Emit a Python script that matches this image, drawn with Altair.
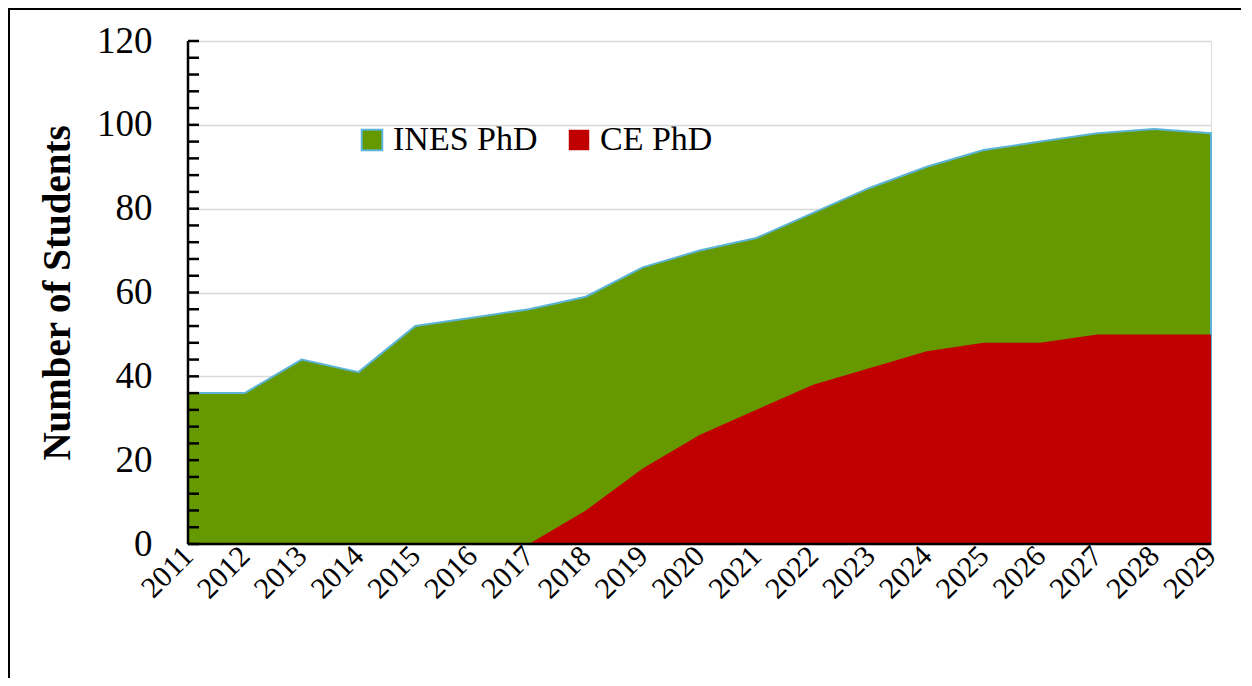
import altair as alt
import pandas as pd

years = [str(y) for y in range(2011, 2030)]
ines_phd = [36, 36, 44, 41, 52, 54, 56, 59, 66, 70, 73, 79, 85, 90, 94, 96, 98, 99, 98]
ce_phd = [0, 0, 0, 0, 0, 0, 0, 8, 18, 26, 32, 38, 42, 46, 48, 48, 50, 50, 50]
series_names = ["INES PhD", "CE PhD"]
fill_colors = ["#669900", "#C00000"]
stroke_colors = ["#5BB4D6", "rgba(0,0,0,0)"]
y_major = [0, 20, 40, 60, 80, 100, 120]
y_minor = list(range(0, 121, 4))

rows = []
for i, y in enumerate(years):
    rows.append({"year": y, "series": series_names[0], "value": ines_phd[i]})
    rows.append({"year": y, "series": series_names[1], "value": ce_phd[i]})
df = pd.DataFrame(rows)

FONT = "Liberation Serif"
W, H = 1023, 503
yscale = alt.Scale(domain=[0, 120], nice=False)

x_enc = alt.X(
    "year:O",
    scale=alt.Scale(type="point", padding=0),
    axis=alt.Axis(
        title=None, labelAngle=-45, labelAlign="right", labelBaseline="middle",
        labelFont=FONT, labelFontSize=30, labelColor="black", ticks=False,
        domain=False, labelPadding=7, grid=False,
    ),
)
y_enc = alt.Y(
    "value:Q",
    scale=yscale,
    axis=alt.Axis(
        title="Number of Students", titleFont=FONT, titleFontSize=39,
        titleFontWeight="bold", titleColor="black", titlePadding=19,
        values=y_major, labelFont=FONT, labelFontSize=37, labelColor="black",
        ticks=False, labelPadding=36, domain=False,
        grid=True, gridColor="#D9D9D9", gridWidth=1.5,
    ),
)
legend_cfg = dict(
    title=None, orient="none", legendX=167, legendY=82, direction="horizontal",
    labelFont=FONT, labelFontSize=34, labelColor="black", symbolType="square",
    symbolSize=420, symbolStrokeWidth=2, columnPadding=24, labelOffset=4,
    symbolOpacity=1,
)
color_enc = alt.Color(
    "series:N",
    scale=alt.Scale(domain=series_names, range=fill_colors),
    legend=alt.Legend(**legend_cfg),
)
stroke_enc = alt.Stroke(
    "series:N",
    scale=alt.Scale(domain=series_names, range=stroke_colors),
    legend=alt.Legend(**legend_cfg),
)

base = alt.Chart(df)
green = base.transform_filter(alt.datum.series == series_names[0]).mark_area(
    opacity=1, strokeWidth=2
).encode(x=x_enc, y=y_enc, color=color_enc, stroke=stroke_enc)
red = base.transform_filter(alt.datum.series == series_names[1]).mark_area(
    opacity=1, strokeWidth=0
).encode(x=x_enc, y=y_enc, color=color_enc, stroke=stroke_enc)

minor = alt.Chart(pd.DataFrame({"t": y_minor})).mark_rule(
    color="black", strokeWidth=2.5
).encode(
    y=alt.Y("t:Q", scale=yscale),
    x=alt.value(0), x2=alt.value(11),
)

y_axis_line = alt.Chart(pd.DataFrame({"t": [0]})).mark_rule(
    color="black", strokeWidth=2.5
).encode(x=alt.value(0), y=alt.value(0), y2=alt.value(H))

x_axis_line = alt.Chart(pd.DataFrame({"t": [0]})).mark_rule(
    color="black", strokeWidth=2.5
).encode(
    y=alt.Y("t:Q", scale=yscale),
    x=alt.value(0), x2=alt.value(W),
)

frame = alt.Chart(pd.DataFrame({"t": [0]})).mark_rect(
    fill=None, stroke="black", strokeWidth=2
).encode(
    x=alt.value(-179), x2=alt.value(1055), y=alt.value(-32), y2=alt.value(700),
)

chart = alt.layer(green, red, minor, y_axis_line, x_axis_line, frame).properties(
    width=W, height=H,
    autosize=alt.AutoSizeParams(type="none"),
    padding={"left": 180, "top": 33, "right": 30, "bottom": 134},
).configure_view(stroke=None).configure(background="white")

chart.save("out.html", embed_options={"renderer": "svg", "actions": False})
